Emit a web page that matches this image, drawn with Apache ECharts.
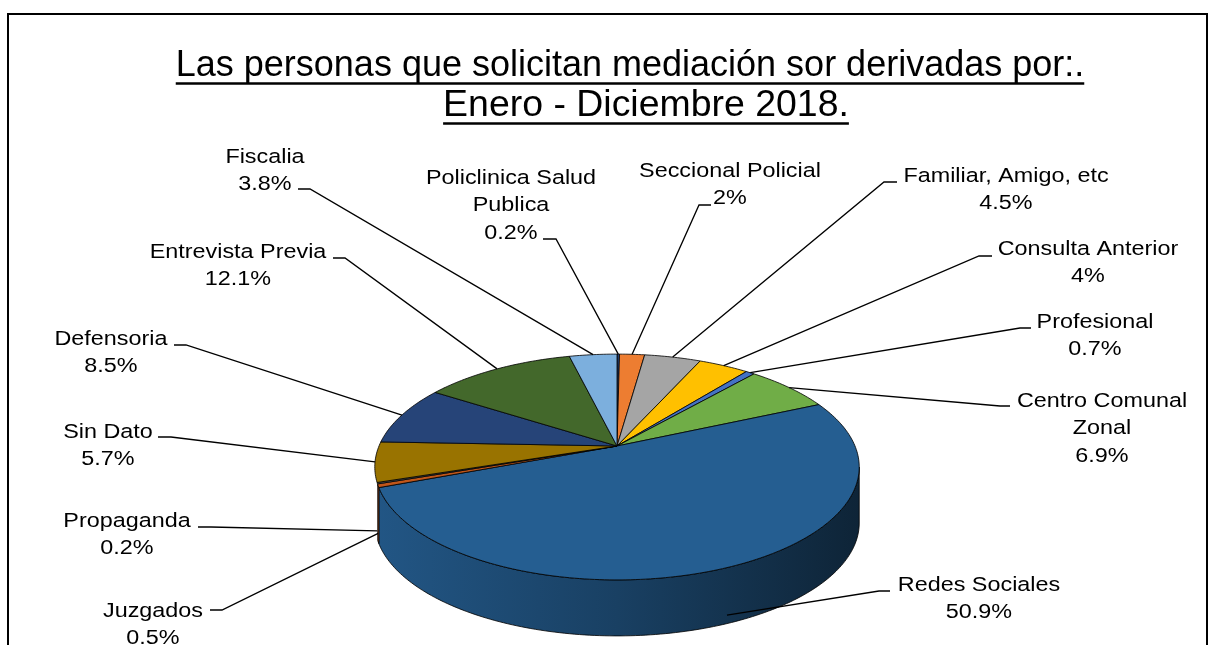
<!DOCTYPE html>
<html>
<head>
<meta charset="utf-8">
<script src="https://cdn.jsdelivr.net/npm/echarts@6/dist/echarts.min.js"></script>
<style>
html, body { margin: 0; background: #fff; }
#chart { width: 1217px; height: 645px; }
</style>
</head>
<body>
<div id="chart"></div>
<script>
// datos (orden horario desde las 12)
const categories = ['Policlinica Salud\nPublica', 'Seccional Policial', 'Familiar, Amigo, etc', 'Consulta Anterior',
  'Profesional', 'Centro Comunal\nZonal', 'Redes Sociales', 'Juzgados', 'Propaganda', 'Sin Dato',
  'Defensoria', 'Entrevista Previa', 'Fiscalia'];
const percents = [0.2, 2, 4.5, 4, 0.7, 6.9, 50.9, 0.5, 0.2, 5.7, 8.5, 12.1, 3.8];
const colors = ['#264478', '#ED7D31', '#A5A5A5', '#FFC000', '#4472C4', '#70AD47', '#255E91',
  '#C0561A', '#555555', '#997300', '#264478', '#43682B', '#7CAFDD'];
const titleLines = ['Las personas que solicitan mediación sor derivadas por:.', 'Enero - Diciembre 2018.'];

// posición de cada etiqueta: [centro x, base 1a línea, guía x1, guía y, guía x2]
const labelLayout = [
  [511, 185, 543, 239, 556],
  [730, 178, 711, 205, 699],
  [1006, 183, 897, 182, 884],
  [1088, 256, 992, 256, 979],
  [1095, 329, 1031, 328, 1020],
  [1102, 408, 1010, 406, 1000],
  [979, 592, 890, 591, 879],
  [153, 618, 210, 610, 222],
  [127, 528, 198, 527, 211],
  [108, 439, 158, 437, 171],
  [111, 346, 174, 345, 186],
  [238, 259, 333, 258, 345],
  [265, 164, 298, 189, 310]
];

// geometría del pastel 3D
const CX = 617, CY = 446, RX = 238, RY = 109, K = 0.186, DEPTH = 56;
const LABEL_FONT = '20.5px "Liberation Sans", Arial, sans-serif';
const LINE_H = 27.5;

const total = percents.reduce((a, b) => a + b, 0);
const starts = [];
let acc = 0;
percents.forEach(v => { starts.push(acc); acc += v; });

function proj(theta, drop) {
  const w = 1 + K * Math.cos(theta);
  return [CX + RX * Math.sin(theta) / w, CY - RY * Math.cos(theta) / w + (drop || 0)];
}
function arcPts(a, b, drop) {
  const pts = [];
  const n = Math.max(2, Math.ceil(Math.abs(b - a) / (Math.PI / 180)));
  for (let i = 0; i <= n; i++) pts.push(proj(a + (b - a) * i / n, drop));
  return pts;
}
function shade(hex, f) {
  const n = parseInt(hex.slice(1), 16);
  const r = Math.round(((n >> 16) & 255) * f), g = Math.round(((n >> 8) & 255) * f), b = Math.round((n & 255) * f);
  return 'rgb(' + r + ',' + g + ',' + b + ')';
}

// tramo visible del lateral (como en Excel, el borde izquierdo corta antes)
const sideFrom = Math.acos(-K), sideTo = 250.6 / 180 * Math.PI;

const renderItem = (params, api) => {
  const i = params.dataIndex;
  const val = api.value(0);
  const a = starts[i] / total * 2 * Math.PI;
  const b = (starts[i] + val) / total * 2 * Math.PI;
  const children = [];
  const edge = { stroke: 'rgba(0,0,0,0.8)', lineWidth: 1 };

  // lateral
  const s = Math.max(a, sideFrom), e = Math.min(b, sideTo);
  if (e > s) {
    children.push({
      type: 'polygon',
      z2: 1,
      shape: { points: arcPts(s, e, 0).concat(arcPts(e, s, DEPTH)) },
      style: Object.assign({
        fill: new echarts.graphic.LinearGradient(CX - RX * 1.02, 0, CX + RX * 1.02, 0, [
          { offset: 0, color: shade(colors[i], 0.92) },
          { offset: 0.5, color: shade(colors[i], 0.68) },
          { offset: 1, color: shade(colors[i], 0.38) }
        ], true)
      }, edge)
    });
  }
  // cara superior
  children.push({
    type: 'polygon',
    z2: 10,
    shape: { points: [[CX, CY]].concat(arcPts(a, b, 0)) },
    style: Object.assign({ fill: colors[i] }, edge)
  });

  // guía de la etiqueta
  const mid = (a + b) / 2;
  const front = -Math.cos(mid) > 0.25;
  const anchor = proj(mid, front ? DEPTH * 0.85 : 0);
  const L = labelLayout[i];
  children.push({
    type: 'polyline',
    z2: 20,
    shape: { points: [[L[2], L[3]], [L[4], L[3]], anchor] },
    style: { stroke: '#000', lineWidth: 1.3, fill: null }
  });
  // texto
  const lines = categories[i].split('\n').concat([val + '%']);
  lines.forEach((t, j) => {
    children.push({
      type: 'text',
      z2: 30,
      x: L[0],
      y: L[1] + j * LINE_H - 7,
      scaleX: 1.14,
      style: { text: t, font: LABEL_FONT, fill: '#000', align: 'center', verticalAlign: 'middle' }
    });
  });
  return { type: 'group', children: children };
};

// título subrayado
const TITLE_SIZE = 36;
const titleFont = TITLE_SIZE + 'px "Liberation Sans", Arial, sans-serif';
const ctx = document.createElement('canvas').getContext('2d');
ctx.font = titleFont;
const titleX = [630, 646];
const titleBase = [79, 119];
const titleScale = [1, 1.04];
const titleGraphics = [];
titleLines.forEach((t, j) => {
  const w = ctx.measureText(t).width * titleScale[j];
  titleGraphics.push({
    type: 'text',
    x: titleX[j],
    y: titleBase[j] - TITLE_SIZE * 0.3465,
    scaleX: titleScale[j],
    style: { text: t, font: titleFont, fill: '#000', align: 'center', verticalAlign: 'middle' }
  });
  titleGraphics.push({
    type: 'line',
    shape: { x1: titleX[j] - w / 2, y1: titleBase[j] + 4.5, x2: titleX[j] + w / 2, y2: titleBase[j] + 4.5 },
    style: { stroke: '#000', lineWidth: 2.5 }
  });
});

const chart = echarts.init(document.getElementById('chart'));
chart.setOption({
  animation: false,
  graphic: [
    { type: 'rect', shape: { x: 8, y: 14, width: 1199, height: 700 }, style: { fill: null, stroke: '#000', lineWidth: 2 } }
  ].concat(titleGraphics),
  series: [{
    type: 'custom',
    coordinateSystem: 'none',
    silent: true,
    data: percents,
    renderItem: renderItem
  }]
});
window.addEventListener('resize', () => chart.resize());
</script>
</body>
</html>
